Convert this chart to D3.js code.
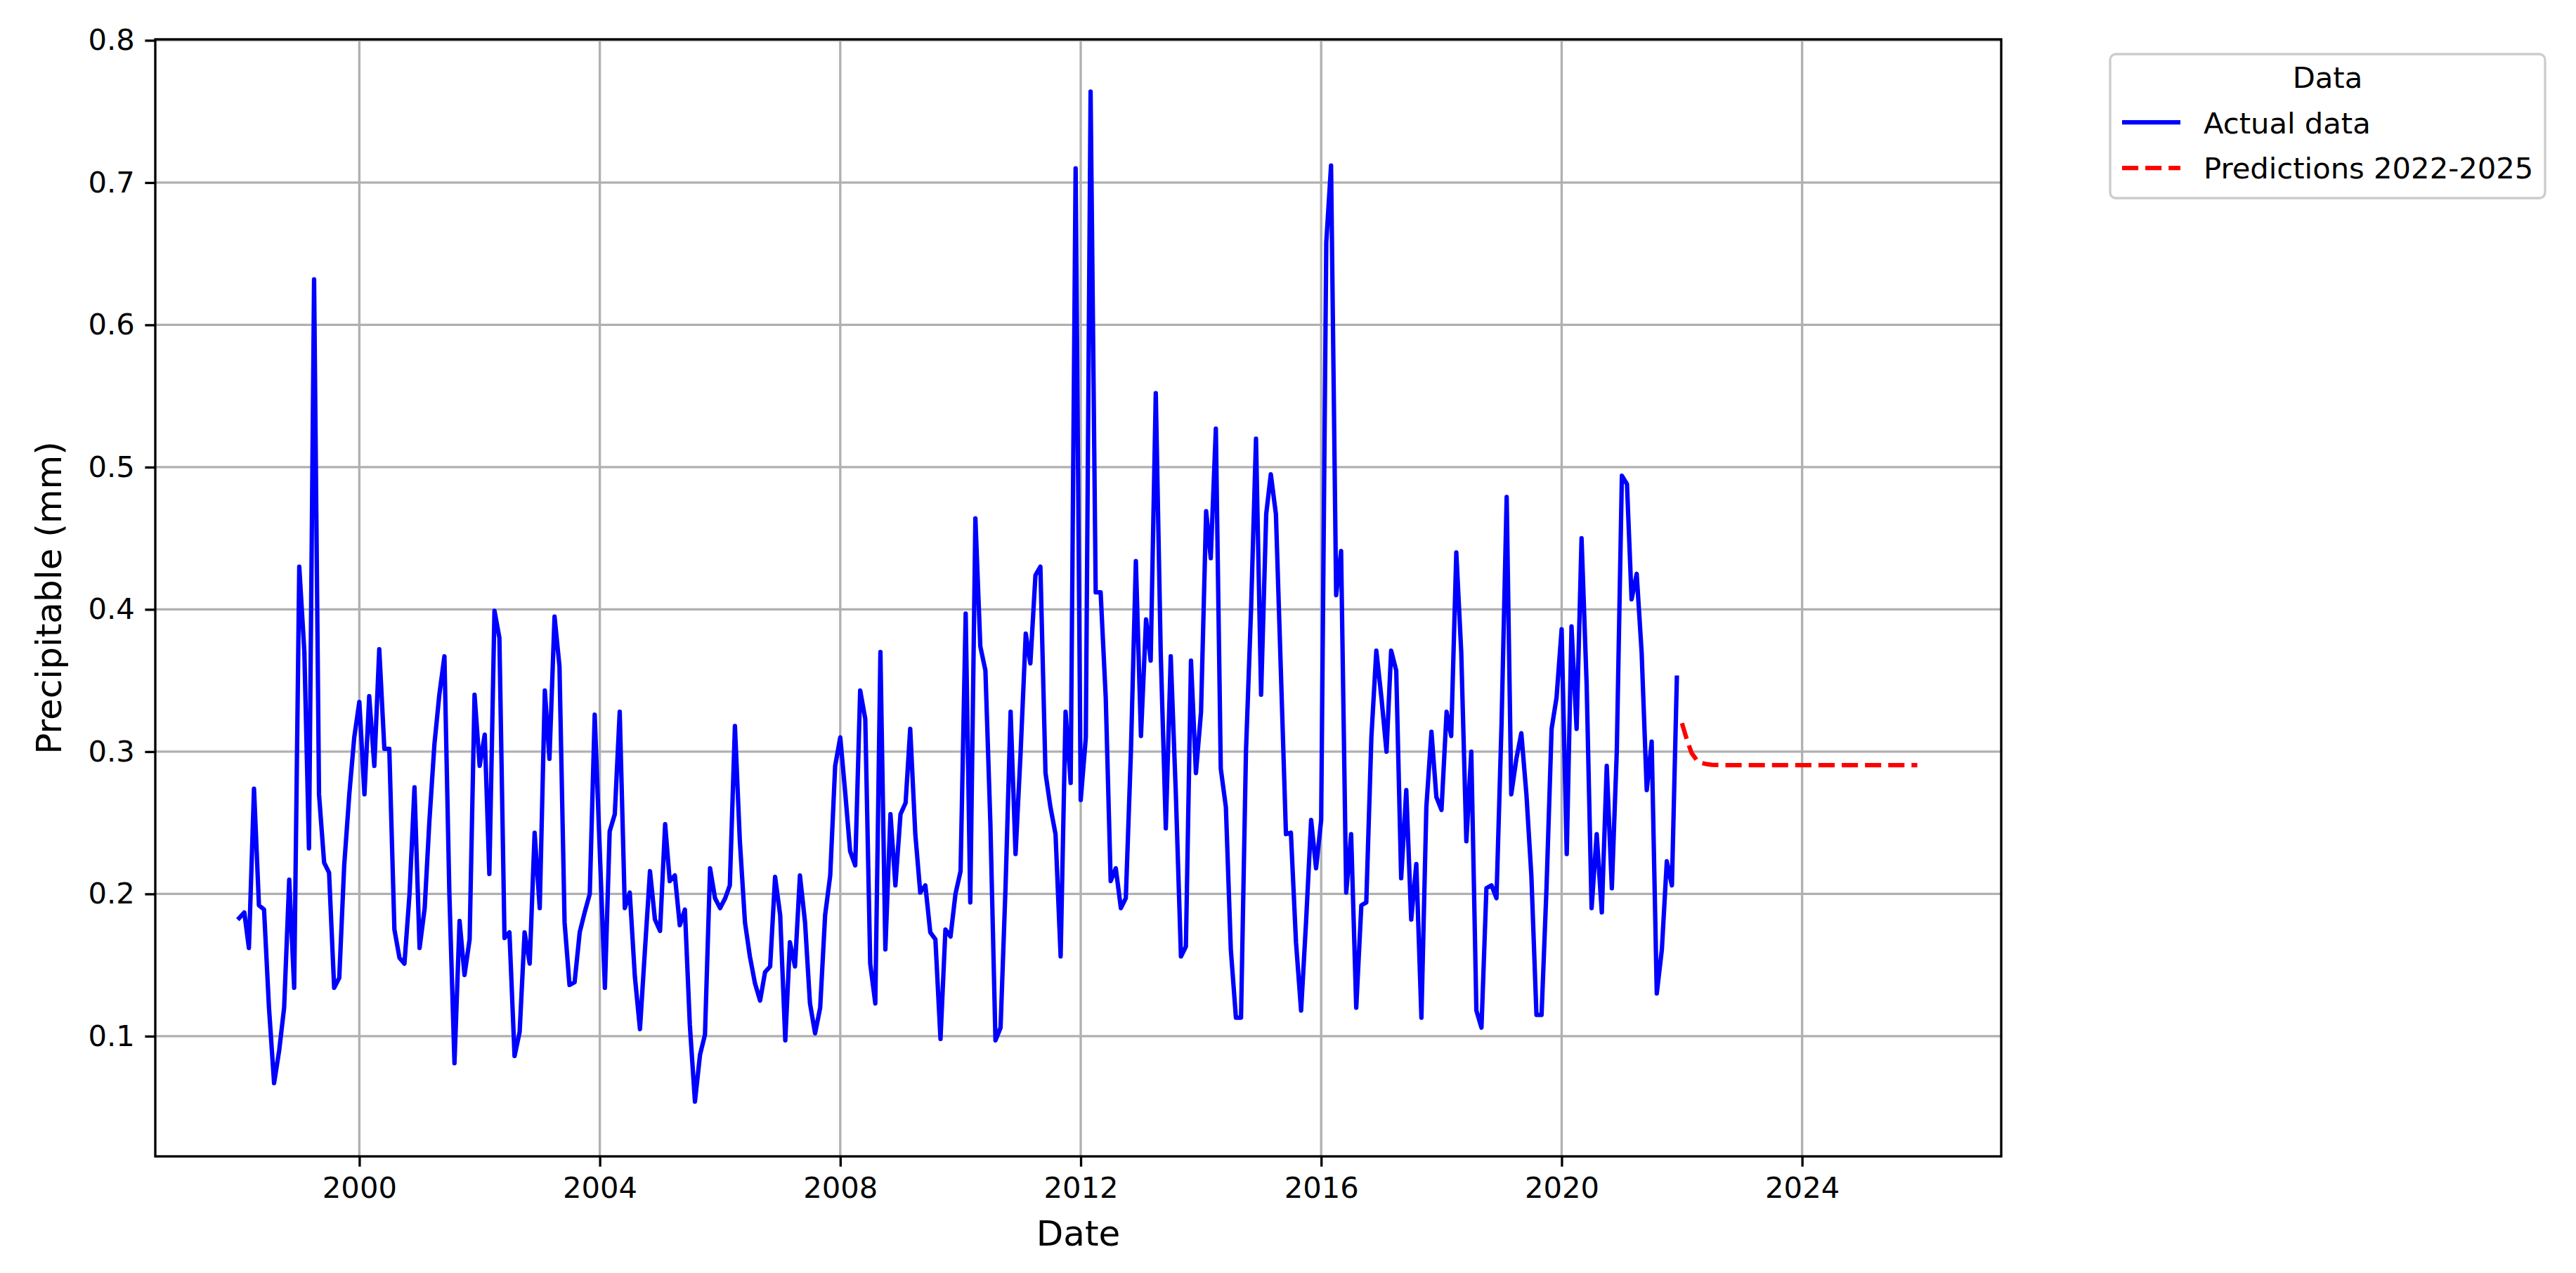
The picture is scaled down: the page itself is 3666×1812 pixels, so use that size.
<!DOCTYPE html>
<html>
<head>
<meta charset="utf-8">
<script src="https://cdn.jsdelivr.net/npm/d3@7/dist/d3.min.js"></script>
<style>
  body { margin: 0; background: #fff; }
  svg text { font-family: "DejaVu Sans", sans-serif; fill: #000; }
</style>
</head>
<body>
<svg id="chart" width="3666" height="1812"></svg>
<script>
// monthly values, Jan 1998 .. Dec 2021
var actualStart = 1998;
var actualValues = [
  0.183, 0.187, 0.162, 0.274, 0.192, 0.189, 0.12, 0.067, 0.09, 0.12, 0.21, 0.134,
  0.43, 0.37, 0.232, 0.632, 0.27, 0.222, 0.215, 0.134, 0.141, 0.22, 0.27, 0.31,
  0.335, 0.27, 0.339, 0.29, 0.372, 0.302, 0.302, 0.175, 0.155, 0.151, 0.2, 0.275,
  0.162, 0.19, 0.25, 0.305, 0.34, 0.367, 0.2, 0.081, 0.181, 0.143, 0.168, 0.34,
  0.29, 0.312, 0.214, 0.399, 0.38, 0.169, 0.173, 0.086, 0.103, 0.173, 0.151, 0.243,
  0.19, 0.343, 0.295, 0.395, 0.36, 0.18, 0.136, 0.138, 0.173, 0.187, 0.2, 0.326,
  0.23, 0.134, 0.244, 0.256, 0.328, 0.19, 0.201, 0.142, 0.105, 0.16, 0.216, 0.182,
  0.174, 0.249, 0.209, 0.213, 0.178, 0.189, 0.108, 0.054, 0.087, 0.101, 0.218, 0.197,
  0.19, 0.197, 0.206, 0.318, 0.237, 0.18, 0.156, 0.137, 0.125, 0.145, 0.149, 0.212,
  0.185, 0.097, 0.166, 0.149, 0.213, 0.18, 0.123, 0.102, 0.12, 0.185, 0.213, 0.29,
  0.31, 0.27, 0.23, 0.22, 0.343, 0.323, 0.151, 0.123, 0.37, 0.161, 0.256, 0.206,
  0.256, 0.264, 0.316, 0.242, 0.201, 0.206, 0.173, 0.168, 0.098, 0.175, 0.17, 0.2,
  0.216, 0.397, 0.194, 0.464, 0.374, 0.357, 0.25, 0.097, 0.106, 0.204, 0.328, 0.228,
  0.3, 0.383, 0.362, 0.424, 0.43, 0.285, 0.261, 0.242, 0.156, 0.328, 0.278, 0.71,
  0.266, 0.31, 0.764, 0.412, 0.412, 0.338, 0.209, 0.218, 0.19, 0.197, 0.3, 0.434,
  0.311, 0.393, 0.364, 0.552, 0.37, 0.246, 0.367, 0.27, 0.156, 0.163, 0.364, 0.285,
  0.328, 0.469, 0.436, 0.527, 0.288, 0.261, 0.161, 0.113, 0.113, 0.3, 0.4, 0.52,
  0.34, 0.467, 0.495, 0.467, 0.357, 0.242, 0.243, 0.166, 0.118, 0.18, 0.252, 0.218,
  0.252, 0.658, 0.712, 0.41, 0.441, 0.201, 0.242, 0.12, 0.192, 0.194, 0.31, 0.371,
  0.338, 0.3, 0.371, 0.357, 0.211, 0.273, 0.182, 0.221, 0.113, 0.261, 0.314, 0.268,
  0.259, 0.328, 0.311, 0.44, 0.37, 0.237, 0.3, 0.118, 0.106, 0.204, 0.206, 0.197,
  0.32, 0.479, 0.27, 0.295, 0.313, 0.27, 0.213, 0.115, 0.115, 0.204, 0.316, 0.338,
  0.386, 0.228, 0.388, 0.316, 0.45, 0.347, 0.19, 0.242, 0.187, 0.29, 0.204, 0.3,
  0.494, 0.488, 0.407, 0.425, 0.37, 0.273, 0.307, 0.13, 0.161, 0.223, 0.206, 0.352
];

// monthly predictions, Jan 2022 .. Dec 2025
var predStart = 2022;
var predictionValues = [
  0.32, 0.308, 0.299, 0.294, 0.292, 0.2912, 0.2908, 0.2906, 0.2905, 0.2905, 0.2905, 0.2905,
  0.2905, 0.2905, 0.2905, 0.2905, 0.2905, 0.2905, 0.2905, 0.2905, 0.2905, 0.2905, 0.2905, 0.2905,
  0.2905, 0.2905, 0.2905, 0.2905, 0.2905, 0.2905, 0.2905, 0.2905, 0.2905, 0.2905, 0.2905, 0.2905,
  0.2905, 0.2905, 0.2905, 0.2905, 0.2905, 0.2905, 0.2905, 0.2905, 0.2905, 0.2905, 0.2905, 0.2905
];

var yTicks = [0.1, 0.2, 0.3, 0.4, 0.5, 0.6, 0.7, 0.8];
var seriesLabels = ['Actual data', 'Predictions 2022-2025'];
var legendTitle = 'Data';
var xTitle = 'Date', yTitle = 'Precipitable (mm)';

(function () {
  function toMonthly(startYear, values) {
    return values.map(function (v, i) {
      return { date: new Date(startYear + Math.floor(i / 12), i % 12, 1), value: v };
    });
  }

  var actual = toMonthly(actualStart, actualValues),
      predicted = toMonthly(predStart, predictionValues);

  var plotLeft = 221, plotRight = 2848, plotTop = 56, plotBottom = 1646;
  var fontPx = 41.7, labelPx = 50, lw = 6.25, thin = 3.33;

  // 5% padding on the time range, like the original plot
  var ext = d3.extent(actual.concat(predicted), function (d) { return d.date; }),
      pad = (ext[1] - ext[0]) * 0.05;

  var x = d3.scaleTime()
      .domain([new Date(+ext[0] - pad), new Date(+ext[1] + pad)])
      .range([plotLeft, plotRight]);

  var y = d3.scaleLinear()
      .domain([0.0155, 0.8007])
      .range([plotBottom, plotTop]);

  var svg = d3.select('#chart');

  // grid
  var xTickVals = x.ticks(d3.timeYear.every(4));
  svg.append('g').selectAll('line')
      .data(xTickVals).enter().append('line')
      .attr('x1', function (d) { return x(d); })
      .attr('x2', function (d) { return x(d); })
      .attr('y1', plotTop).attr('y2', plotBottom)
      .attr('stroke', '#b0b0b0').attr('stroke-width', thin);
  svg.append('g').selectAll('line')
      .data(yTicks).enter().append('line')
      .attr('y1', function (d) { return y(d); })
      .attr('y2', function (d) { return y(d); })
      .attr('x1', plotLeft).attr('x2', plotRight)
      .attr('stroke', '#b0b0b0').attr('stroke-width', thin);

  // lines
  var line = d3.line()
      .x(function (d) { return x(d.date); })
      .y(function (d) { return y(d.value); });

  svg.append('path')
      .datum(actual)
      .attr('d', line)
      .attr('fill', 'none')
      .attr('stroke', '#0000ff')
      .attr('stroke-width', lw)
      .attr('stroke-linejoin', 'round')
      .attr('stroke-linecap', 'square');

  svg.append('path')
      .datum(predicted)
      .attr('d', line)
      .attr('fill', 'none')
      .attr('stroke', '#ff0000')
      .attr('stroke-width', lw)
      .attr('stroke-dasharray', '23.1,10');

  // axes
  var xAxis = d3.axisBottom(x)
      .tickValues(xTickVals)
      .tickFormat(d3.timeFormat('%Y'))
      .tickSize(14.6).tickPadding(14.6);
  var yAxis = d3.axisLeft(y)
      .tickValues(yTicks)
      .tickFormat(d3.format('.1f'))
      .tickSize(14.6).tickPadding(14.6);

  var gx = svg.append('g').attr('transform', 'translate(0,' + plotBottom + ')').call(xAxis);
  var gy = svg.append('g').attr('transform', 'translate(' + plotLeft + ',0)').call(yAxis);
  [gx, gy].forEach(function (g) {
    g.select('.domain').remove();
    g.selectAll('.tick line').attr('stroke', '#000').attr('stroke-width', thin);
    g.selectAll('.tick text')
        .attr('fill', '#000')
        .style('font-family', '"DejaVu Sans", sans-serif')
        .style('font-size', fontPx + 'px');
  });

  // frame
  svg.append('rect')
      .attr('x', plotLeft).attr('y', plotTop)
      .attr('width', plotRight - plotLeft).attr('height', plotBottom - plotTop)
      .attr('fill', 'none').attr('stroke', '#000').attr('stroke-width', thin);

  // axis titles
  svg.append('text')
      .attr('x', (plotLeft + plotRight) / 2).attr('y', 1773)
      .attr('text-anchor', 'middle')
      .style('font-size', labelPx + 'px')
      .text(xTitle);
  svg.append('text')
      .attr('transform', 'translate(87,' + (plotTop + plotBottom) / 2 + ') rotate(-90)')
      .attr('text-anchor', 'middle')
      .style('font-size', labelPx + 'px')
      .text(yTitle);

  // legend
  var lg = svg.append('g');
  var box = lg.append('rect')
      .attr('x', 3003).attr('y', 77)
      .attr('rx', 8).attr('ry', 8)
      .attr('height', 205)
      .attr('fill', '#fff').attr('fill-opacity', 0.8)
      .attr('stroke', '#cccccc').attr('stroke-width', thin);

  var rows = [
    { label: seriesLabels[0], color: '#0000ff', dash: null, base: 190, ly: 174 },
    { label: seriesLabels[1], color: '#ff0000', dash: '23.1,10', base: 254, ly: 239 }
  ];
  var maxRight = 0;
  rows.forEach(function (r) {
    lg.append('line')
        .attr('x1', 3020).attr('x2', 3103)
        .attr('y1', r.ly).attr('y2', r.ly)
        .attr('stroke', r.color).attr('stroke-width', lw)
        .attr('stroke-dasharray', r.dash);
    var t = lg.append('text')
        .attr('x', 3136).attr('y', r.base)
        .style('font-size', fontPx + 'px')
        .text(r.label);
    maxRight = Math.max(maxRight, 3136 + t.node().getComputedTextLength());
  });
  var boxRight = maxRight + 16.7;
  box.attr('width', boxRight - 3003);

  lg.append('text')
      .attr('x', (3003 + boxRight) / 2).attr('y', 125)
      .attr('text-anchor', 'middle')
      .style('font-size', fontPx + 'px')
      .text(legendTitle);
})();
</script>
</body>
</html>
